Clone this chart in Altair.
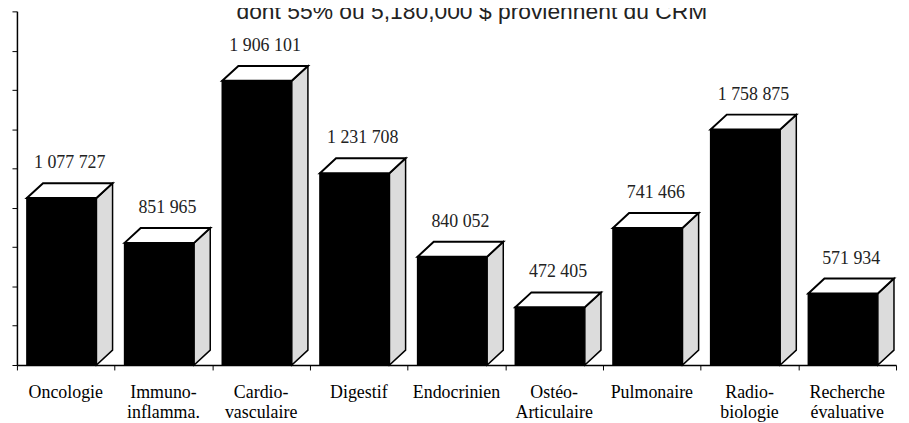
import altair as alt
import pandas as pd

# ---- data ----
categories = ["Oncologie", "Immuno-\ninflamma.", "Cardio-\nvasculaire", "Digestif",
              "Endocrinien", "Ostéo-\nArticulaire", "Pulmonaire", "Radio-\nbiologie",
              "Recherche\névaluative"]
value_labels = ["1 077 727", "851 965", "1 906 101", "1 231 708", "840 052",
                "472 405", "741 466", "1 758 875", "571 934"]
# bar heights as drawn (estimated from the unlabeled value axis, $)
bar_heights = [1062000, 777000, 1808000, 1220000, 689000, 367000, 872000, 1498000, 455000]
y_ticks = [0, 250000, 500000, 750000, 1000000, 1250000, 1500000, 1750000, 2000000, 2250000]
title_text = "dont 55%  ou 5,180,000 $ proviennent du CRM"

# ---- 3D bar styling (fractions of a category band / value units) ----
FS, FE = 0.102, 0.814      # front face start/end inside a band
DX = 0.165                 # depth in x (band fraction)
DY = 95000                 # depth in y (value units)
W, H = 885, 356

n = len(categories)
front = pd.DataFrame({
    "id": range(n),
    "x": [i + FS for i in range(n)],
    "x1": [i + FE for i in range(n)],
    "y": bar_heights,
})

side_rows, top_rows = [], []
for i, h in enumerate(bar_heights):
    side_rows.append({"id": i, "x": i + FE, "y": h, "y2": 0})
    side_rows.append({"id": i, "x": i + FE + DX, "y": h + DY, "y2": DY})
    top_rows.append({"id": i, "x": i + FS, "y": h, "y2": h})
    top_rows.append({"id": i, "x": i + FS + DX, "y": h + DY, "y2": h})
    top_rows.append({"id": i, "x": i + FE, "y": h + DY, "y2": h})
    top_rows.append({"id": i, "x": i + FE + DX, "y": h + DY, "y2": h + DY})
side = pd.DataFrame(side_rows)
top = pd.DataFrame(top_rows)

labels = pd.DataFrame({
    "x": [i + (FS + FE + DX) / 2 for i in range(n)],
    "y": [h + DY for h in bar_heights],
    "txt": value_labels,
})
cats = pd.DataFrame({"x": [i + 0.5 for i in range(n)], "cat": categories})
title_df = pd.DataFrame({"t": [title_text]})

xs = alt.Scale(domain=[0, n], nice=False, zero=False)
ys = alt.Scale(domain=[0, y_ticks[-1]], nice=False)
x_axis = alt.Axis(values=list(range(n + 1)), labels=False, title=None, grid=False,
                  tickSize=5, tickColor="black", domainColor="black", domainWidth=1.5,
                  tickWidth=1)
y_axis = alt.Axis(values=y_ticks, labels=False, title=None, grid=False,
                  tickSize=5, tickColor="black", domainColor="black", domainWidth=1.5,
                  tickWidth=1)
X = alt.X("x:Q", scale=xs, axis=x_axis)
Y = alt.Y("y:Q", scale=ys, axis=y_axis, stack=None)

front_layer = alt.Chart(front).mark_rect(fill="black", stroke="black", strokeWidth=1.5).encode(
    x=X, x2="x1:Q", y=Y, y2=alt.datum(0),
)

side_layer = alt.Chart(side).mark_area(fill="#dcdcdc", stroke="black", strokeWidth=1.5,
                                       interpolate="linear", orient="vertical").encode(
    x=X, y=Y, y2="y2:Q", detail="id:N",
)

top_layer = alt.Chart(top).mark_area(fill="white", stroke="black", strokeWidth=2,
                                     interpolate="linear", orient="vertical").encode(
    x=X, y=Y, y2="y2:Q", detail="id:N",
)

value_text = alt.Chart(labels).mark_text(font="Liberation Serif", fontSize=18, color="#222",
                                         baseline="alphabetic", align="center", dy=-15).encode(
    x=X, y=Y, text="txt:N",
)

cat_text = alt.Chart(cats).mark_text(font="Liberation Serif", fontSize=18, color="black",
                                     baseline="alphabetic", align="center", lineBreak="\n",
                                     lineHeight=20).encode(
    x=X, y=alt.value(389), text="cat:N",
)

title_layer = alt.Chart(title_df).mark_text(font="Liberation Sans", fontSize=23, color="#222",
                                            baseline="alphabetic", align="center").encode(
    x=alt.value(458), y=alt.value(8), text="t:N",
)

chart = alt.layer(front_layer, side_layer, top_layer, value_text, cat_text, title_layer).properties(
    width=W, height=H,
    autosize=alt.AutoSizeParams(type="none"),
    padding={"left": 9, "top": 2, "right": 5, "bottom": 57},
).configure(background="white").configure_view(stroke=None)

chart.save("out.html", embed_options={"renderer": "svg", "actions": False})
